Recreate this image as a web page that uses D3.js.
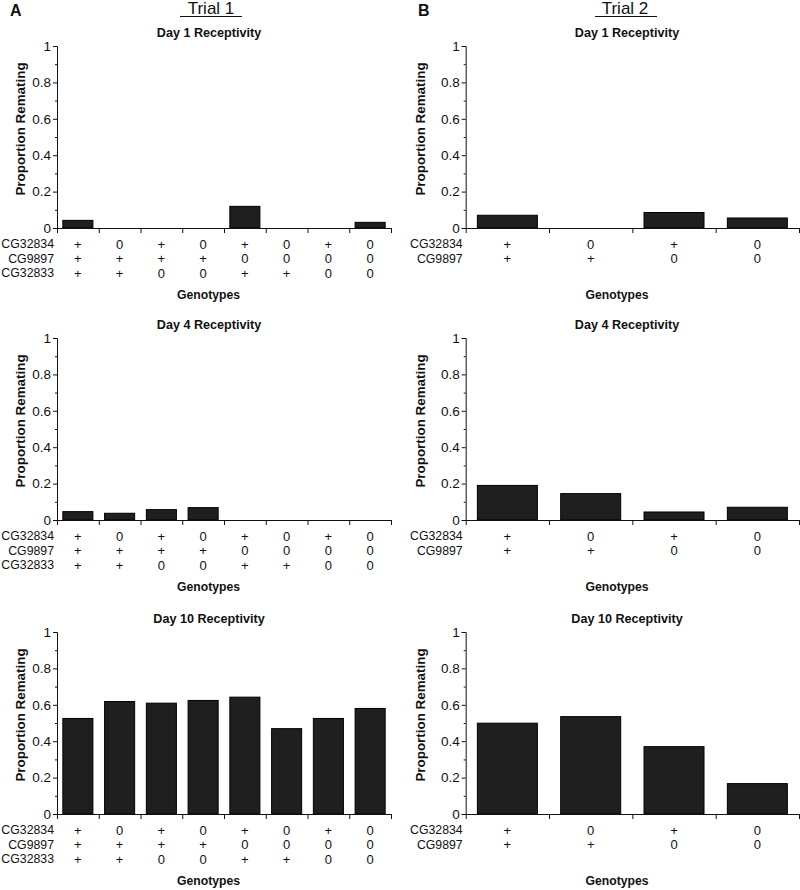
<!DOCTYPE html>
<html><head><meta charset="utf-8">
<script src="https://cdn.jsdelivr.net/npm/d3@7"></script>
<style>body{margin:0;background:#fff}svg{display:block}text{font-family:Arial,"Liberation Sans",sans-serif;fill:#111}</style>
</head><body><svg id="c" width="800" height="890"></svg>
<script>
// ---- data ----
const trial1Rows = ["CG32834", "CG9897", "CG32833"];
const t1CG32834 = ["+", "0", "+", "0", "+", "0", "+", "0"];
const t1CG9897  = ["+", "+", "+", "+", "0", "0", "0", "0"];
const t1CG32833 = ["+", "+", "0", "0", "+", "+", "0", "0"];
const trial2Rows = ["CG32834", "CG9897"];
const t2CG32834 = ["+", "0", "+", "0"];
const t2CG9897  = ["+", "+", "0", "0"];
const t1Day1  = [0.042, 0, 0, 0, 0.119, 0, 0, 0.031];
const t1Day4  = [0.046, 0.037, 0.057, 0.068, 0, 0, 0, 0];
const t1Day10 = [0.525, 0.618, 0.609, 0.624, 0.642, 0.469, 0.525, 0.58];
const t2Day1  = [0.07, 0, 0.085, 0.055];
const t2Day4  = [0.19, 0.145, 0.044, 0.07];
const t2Day10 = [0.499, 0.535, 0.37, 0.167];
const dayTitles = ["Day 1 Receptivity", "Day 4 Receptivity", "Day 10 Receptivity"];
const yTicks = [0, 0.2, 0.4, 0.6, 0.8, 1];
const yMinorTicks = [0.1, 0.3, 0.5, 0.7, 0.9];

const svg = d3.select("#c");
const columns = [
  {letter: "A", trial: "Trial 1", x0: 57, x1: 391, rows: trial1Rows, geno: [t1CG32834, t1CG9897, t1CG32833],
   series: [t1Day1, t1Day4, t1Day10], titleX: 209, genoX: 208.5, trialX: 211, ulx: [180, 242], letterX: 10, ylabX: 25},
  {letter: "B", trial: "Trial 2", x0: 465.7, x1: 799, rows: trial2Rows, geno: [t2CG32834, t2CG9897],
   series: [t2Day1, t2Day4, t2Day10], titleX: 627, genoX: 617, trialX: 625, ulx: [595, 657], letterX: 418, ylabX: 425}
];
const zeros = [228, 520, 814];
const H = 182;

columns.forEach(col => {
  svg.append("text").attr("x", col.letterX).attr("y", 15.5).attr("font-size", 16).attr("font-weight", "bold").text(col.letter);
  svg.append("text").attr("x", col.trialX).attr("y", 14).attr("font-size", 17).attr("text-anchor", "middle").text(col.trial);
  svg.append("line").attr("x1", col.ulx[0]).attr("x2", col.ulx[1]).attr("y1", 16.5).attr("y2", 16.5).attr("stroke", "#111").attr("stroke-width", 1.2);

  col.series.forEach((vals, r) => {
    const z = zeros[r];
    const y = d3.scaleLinear().domain([0, 1]).range([z, z - H]);
    const idx = d3.range(vals.length);
    const x = d3.scaleBand().domain(idx).range([col.x0, col.x1]).paddingInner(0.28).paddingOuter(0.14);
    const g = svg.append("g");
    g.selectAll("rect").data(vals).join("rect")
      .attr("x", (d, i) => x(i)).attr("width", x.bandwidth())
      .attr("y", d => y(d)).attr("height", d => z - y(d))
      .attr("fill", "#1f1f1f").attr("stroke", "#000").attr("stroke-width", 1);
    // y axis
    const ya = g.append("g").attr("transform", `translate(${col.x0},0)`)
      .call(d3.axisLeft(y).tickValues(yTicks).tickFormat(d3.format("~g")).tickSize(4).tickPadding(2));
    ya.select(".domain").attr("stroke", "#111");
    ya.selectAll(".tick line").attr("stroke", "#111");
    ya.selectAll("text").attr("font-size", 13.5).style("font-family", "Arial, 'Liberation Sans', sans-serif").attr("fill", "#111");
    g.append("g").attr("transform", `translate(${col.x0},0)`)
      .call(d3.axisLeft(y).tickValues(yMinorTicks).tickFormat("").tickSize(2))
      .call(s => s.select(".domain").remove())
      .selectAll("line").attr("stroke", "#111");
    // x axis: ticks at band boundaries
    const xb = d3.scaleLinear().domain([0, vals.length]).range([col.x0, col.x1]);
    const xa = g.append("g").attr("transform", `translate(0,${z})`)
      .call(d3.axisBottom(xb).tickValues(d3.range(vals.length + 1)).tickFormat("").tickSize(5).tickSizeOuter(0));
    xa.select(".domain").attr("stroke", "#111");
    xa.selectAll("line").attr("stroke", "#111");
    // genotype rows
    col.rows.forEach((name, k) => {
      const cy = z + 16 + k * 14.5;
      g.append("text").attr("x", col.x0 - 3).attr("y", cy).attr("dy", "0.35em").attr("text-anchor", "end")
        .attr("font-size", 12.3).text(name);
      g.selectAll(null).data(col.geno[k]).join("text")
        .attr("x", (d, i) => x(i) + x.bandwidth() / 2).attr("y", cy).attr("dy", "0.35em")
        .attr("text-anchor", "middle").attr("font-size", 13).attr("fill", "#222").text(d => d);
    });
    g.append("text").attr("x", col.genoX).attr("y", z + 67).attr("dy", "0.35em").attr("text-anchor", "middle")
      .attr("font-size", 12.2).attr("font-weight", "bold").text("Genotypes");
    g.append("text").attr("x", col.titleX).attr("y", z - H - 13).attr("dy", "0.35em").attr("text-anchor", "middle")
      .attr("font-size", 12.6).attr("font-weight", "bold").text(dayTitles[r]);
    const cyl = z - H / 2 - 8;
    g.append("text").attr("transform", `translate(${col.ylabX},${cyl}) rotate(-90)`).attr("text-anchor", "middle")
      .attr("font-size", 13.4).attr("font-weight", "bold").text("Proportion Remating");
  });
});
</script></body></html>
